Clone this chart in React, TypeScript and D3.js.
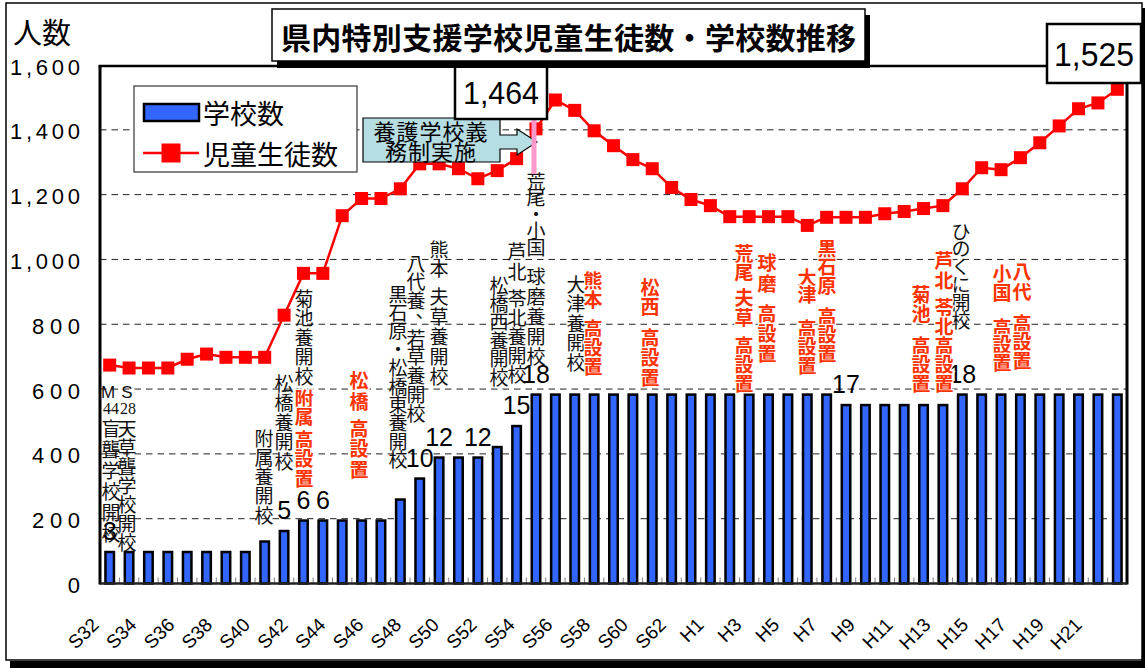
import React from "react";
import * as d3 from "d3";

// ---------- data ----------
const categories = [
  "S32","S33","S34","S35","S36","S37","S38","S39","S40","S41",
  "S42","S43","S44","S45","S46","S47","S48","S49","S50","S51",
  "S52","S53","S54","S55","S56","S57","S58","S59","S60","S61",
  "S62","S63","H1","H2","H3","H4","H5","H6","H7","H8",
  "H9","H10","H11","H12","H13","H14","H15","H16","H17","H18",
  "H19","H20","H21"
];
const schoolCounts = [
  3,3,3,3,3,3,3,3,4,5,
  6,6,6,6,6,8,10,12,12,12,
  13,15,18,18,18,18,18,18,18,18,
  18,18,18,18,18,18,18,18,17,17,
  17,17,17,17,18,18,18,18,18,18,
  18,18,18
];
const studentCounts = [
  674,665,665,665,692,708,698,698,698,828,
  957,957,1135,1188,1188,1218,1295,1295,1280,1249,
  1274,1311,1403,1492,1460,1397,1351,1308,1280,1222,
  1185,1166,1132,1132,1132,1132,1105,1130,1130,1130,
  1141,1148,1157,1166,1218,1283,1277,1314,1360,1412,
  1465,1483,1525
];
const yTickValues = [0,200,400,600,800,1000,1200,1400,1600];
const xTickLabels = [
  "S32","S34","S36","S38","S40","S42","S44","S46","S48","S50","S52","S54","S56","S58",
  "S60","S62","H1","H3","H5","H7","H9","H11","H13","H15","H17","H19","H21"
];
const labeledBars = ["S32","S41","S42","S43","S48","S49","S51","S53","S54","H7","H13"];
const peakLabel = "1,464";
const seriesNames = ["学校数","児童生徒数"];
const titleText = "県内特別支援学校児童生徒数・学校数推移";
const calloutLines = ["養護学校義","務制実施"];

// annotation texts (vertical) with layout
const blackColumns = [
  { text: "盲聾学校開校", x: 111, y: 427, cell: 21 },
  { text: "天草聾学校開校", x: 127, y: 427, cell: 19 },
  { text: "附属養開校", x: 264, y: 437, cell: 19.3 },
  { text: "松橋養開校", x: 284, y: 382, cell: 19.5 },
  { text: "菊池養開校", x: 304, y: 297, cell: 19.5 },
  { text: "黒石原・松橋東養開校", x: 398, y: 293, cell: 18.4 },
  { text: "八代養、若草養開校", x: 416, y: 262, cell: 18.75 },
  { text: "熊本", x: 439, y: 248, cell: 19 },
  { text: "夫草養開校", x: 439, y: 295, cell: 20 },
  { text: "松橋西養開校", x: 499, y: 284, cell: 18.4 },
  { text: "芦北", x: 517, y: 250, cell: 20.5 },
  { text: "苓北養開校", x: 517, y: 297, cell: 19 },
  { text: "荒尾・小国", x: 536, y: 180, cell: 16.5 },
  { text: "球磨養開校", x: 536, y: 275, cell: 20 },
  { text: "大津養開校", x: 576, y: 283, cell: 19.5 },
  { text: "ひのくに開校", x: 961, y: 230, cell: 17.8 },
];
const redColumns = [
  { text: "附属", x: 304, y: 397, cell: 18 },
  { text: "高設置", x: 304, y: 438, cell: 19.5 },
  { text: "松橋", x: 359, y: 379, cell: 21 },
  { text: "高設置", x: 359, y: 427, cell: 20.5 },
  { text: "熊本", x: 593, y: 279, cell: 19 },
  { text: "高設置", x: 593, y: 327, cell: 19 },
  { text: "松西", x: 650, y: 286, cell: 19 },
  { text: "高設置", x: 650, y: 336, cell: 20 },
  { text: "荒尾", x: 744, y: 252, cell: 19 },
  { text: "夫草", x: 744, y: 296, cell: 20 },
  { text: "高設置", x: 744, y: 344, cell: 19 },
  { text: "球磨", x: 767, y: 261, cell: 21 },
  { text: "高設置", x: 767, y: 312, cell: 20 },
  { text: "大津", x: 807, y: 276, cell: 17 },
  { text: "高設置", x: 807, y: 327, cell: 18.5 },
  { text: "黒石原", x: 827, y: 247, cell: 18.5 },
  { text: "高設置", x: 827, y: 315, cell: 18.5 },
  { text: "菊池", x: 921, y: 293, cell: 19 },
  { text: "高設置", x: 921, y: 344, cell: 19 },
  { text: "芦北", x: 944, y: 259, cell: 20 },
  { text: "苓北高設置", x: 944, y: 306, cell: 19 },
  { text: "小国", x: 1002, y: 272, cell: 19 },
  { text: "高設置", x: 1002, y: 326, cell: 17.5 },
  { text: "八代", x: 1022, y: 270, cell: 20 },
  { text: "高設置", x: 1022, y: 322, cell: 18.5 },
];

const CJK = "'Noto Sans CJK JP', 'Noto Sans', sans-serif";
const LAT = "'Liberation Sans', Arial, sans-serif";

function VColumn({ col, color, bold }: any) {
  const chars = Array.from(col.text as string);
  return (
    <g>
      {chars.map((ch, j) => {
        let dx = 0, dy = 0;
        if (ch === "、") { dx = 9; dy = -9; }
        return (
          <text
            key={j}
            x={col.x + dx}
            y={col.y + j * col.cell + dy}
            textAnchor="middle"
            dominantBaseline="central"
            fontSize={19}
            fontFamily={CJK}
            fontWeight={bold ? 700 : 400}
            fill={color}
            stroke={bold ? "#ffffff" : "none"}
            strokeWidth={bold ? 2.5 : 0}
            style={{ paintOrder: "stroke" } as any}
          >
            {ch}
          </text>
        );
      })}
    </g>
  );
}

export default function App() {
  const W = 1145, H = 668;
  const L = 100, R = 1127, T = 65, B = 583.5;

  const x = d3.scaleBand<string>().domain(categories).range([L, R]).paddingInner(0).paddingOuter(0);
  const xc = (c: string) => (x(c) as number) + x.bandwidth() / 2;
  const yL = d3.scaleLinear().domain([0, 1600]).range([B, T]);
  const yR = d3.scaleLinear().domain([0, 49.4]).range([B, T]);
  const xLab = d3.scalePoint<string>().domain(xTickLabels).range([100, 1083]);

  const line = d3.line<number>()
    .x((_, i) => xc(categories[i]))
    .y((d) => yL(d));

  const fmt = d3.format(",");
  const barW = 8.5;
  const mk = 13;
  const labY = 626;

  return (
    <svg width={W} height={H} style={{ position: "absolute", left: 0, top: 0, background: "#fff" }}
      fontFamily={LAT}>
      {/* outer frame */}
      <rect x={10} y={661} width={1135} height={7} fill="#000" />
      <rect x={1141} y={8} width={4} height={660} fill="#000" />
      <rect x={6} y={3} width={1136} height={657} fill="#fff" stroke="#000" strokeWidth={1.5} />

      {/* gridlines */}
      {yTickValues.filter((v) => v > 0 && v < 1600).map((v) => (
        <line key={v} x1={L} x2={R} y1={yL(v)} y2={yL(v)} stroke="#222" strokeWidth={1} strokeDasharray="6.5 5" />
      ))}

      {/* bars */}
      {categories.map((c, i) => (
        <rect key={c} x={xc(c) - barW / 2} y={yR(schoolCounts[i])} width={barW}
          height={yR(0) - yR(schoolCounts[i])} fill="#3366FF" stroke="#000" strokeWidth={2.5} />
      ))}

      {/* minor ticks */}
      {categories.map((c) => (
        <line key={"t" + c} x1={x(c) as number} x2={x(c) as number} y1={B} y2={B - 6} stroke="#808080" strokeWidth={1} />
      ))}

      {/* student line */}
      <path d={line(studentCounts) || ""} fill="none" stroke="#ff0000" strokeWidth={2.5} />
      {studentCounts.map((v, i) => (
        <rect key={"m" + i} x={xc(categories[i]) - mk / 2} y={yL(v) - mk / 2} width={mk} height={mk} fill="#ff0000" />
      ))}

      {/* black annotations */}
      {blackColumns.map((col, i) => <VColumn key={"b" + i} col={col} color="#111" bold={false} />)}
      <text x={108} y={392} textAnchor="middle" dominantBaseline="central" fontSize={17} fill="#111">M</text>
      <text x={127} y={392} textAnchor="middle" dominantBaseline="central" fontSize={17} fill="#111">S</text>
      <text x={111} y={408} textAnchor="middle" dominantBaseline="central" fontSize={17} fontFamily="'Liberation Serif', serif" fill="#111" textLength={16} lengthAdjust="spacingAndGlyphs">44</text>
      <text x={128} y={408} textAnchor="middle" dominantBaseline="central" fontSize={17} fontFamily="'Liberation Serif', serif" fill="#111" textLength={16} lengthAdjust="spacingAndGlyphs">28</text>

      {/* bar value labels */}
      {labeledBars.map((c) => {
        const i = categories.indexOf(c);
        return (
          <text key={"l" + c} x={xc(c)} y={yR(schoolCounts[i]) - 21} textAnchor="middle" dominantBaseline="central"
            fontSize={25} fill="#000">{String(schoolCounts[i])}</text>
        );
      })}

      {/* red annotations */}
      {redColumns.map((col, i) => <VColumn key={"r" + i} col={col} color="#ff3300" bold={true} />)}

      {/* plot border */}
      <line x1={L} x2={L} y1={66} y2={B + 1} stroke="#000" strokeWidth={3} />
      <line x1={R} x2={R} y1={66} y2={B + 1} stroke="#000" strokeWidth={3} />
      <line x1={L - 1.5} x2={R + 1.5} y1={66} y2={66} stroke="#000" strokeWidth={2.5} />
      <line x1={L} x2={R} y1={B} y2={B} stroke="#222" strokeWidth={2.5} />

      {/* y axis labels */}
      {yTickValues.map((v) => {
        const s = fmt(v);
        const tl = s.length >= 5 ? 70 : s.length === 3 ? 48 : undefined;
        return (
          <text key={"y" + v} x={80} y={yL(v) + 2} textAnchor="end" dominantBaseline="central" fontSize={22}
            fill="#000" textLength={tl} lengthAdjust={tl ? "spacing" : undefined}>{s}</text>
        );
      })}
      <text x={42} y={31} textAnchor="middle" dominantBaseline="central" fontSize={29} fontFamily={CJK} fill="#000">人数</text>

      {/* x axis labels (rotated -45deg) */}
      {xTickLabels.map((s) => {
        const px = xLab(s) as number;
        return (
          <g key={"x" + s} transform={`translate(${px.toFixed(2)} ${labY}) rotate(-45)`}>
            <text x={0} y={0} textAnchor="end" fontSize={19} fill="#000">{s}</text>
          </g>
        );
      })}

      {/* legend */}
      <rect x={134} y={86} width={223} height={86} fill="#fff" stroke="#333" strokeWidth={1.2} />
      <rect x={144} y={104} width={55} height={17} fill="#3366FF" stroke="#000" strokeWidth={2.5} />
      <text x={203} y={112} dominantBaseline="central" fontSize={27} fontFamily={CJK} fill="#000">{seriesNames[0]}</text>
      <line x1={143} x2={199} y1={153} y2={153} stroke="#ff0000" strokeWidth={2.5} />
      <rect x={171 - 9.5} y={153 - 9.5} width={19} height={19} fill="#ff0000" />
      <text x={203} y={153} dominantBaseline="central" fontSize={27} fontFamily={CJK} fill="#000">{seriesNames[1]}</text>

      {/* callout */}
      <path d="M363,118 H500 V135 H517 V129 L537,142 L517,155 V149 H500 V162 H363 Z" fill="#b6dde2" stroke="#000" strokeWidth={1.2} />
      <text x={431} y={130} textAnchor="middle" dominantBaseline="central" fontSize={22} fontFamily={CJK} fill="#000" letterSpacing={1}>{calloutLines[0]}</text>
      <text x={431} y={150} textAnchor="middle" dominantBaseline="central" fontSize={22} fontFamily={CJK} fill="#000" letterSpacing={1}>{calloutLines[1]}</text>
      <line x1={534} x2={534} y1={117} y2={174} stroke="#ff99cc" strokeWidth={5} />

      {/* value boxes */}
      <rect x={455} y={65} width={92} height={54} fill="#fff" stroke="#000" strokeWidth={2.5} />
      <text x={501} y={93} textAnchor="middle" dominantBaseline="central" fontSize={32} fill="#000" textLength={76} lengthAdjust="spacingAndGlyphs">{peakLabel}</text>
      <rect x={1047} y={24} width={94} height={59} fill="#fff" stroke="#000" strokeWidth={2.5} />
      <text x={1094} y={54} textAnchor="middle" dominantBaseline="central" fontSize={33} fill="#000" textLength={80} lengthAdjust="spacingAndGlyphs">{fmt(studentCounts[studentCounts.length - 1])}</text>

      {/* title */}
      <rect x={277} y={15} width={593} height={53} fill="#000" />
      <rect x={272} y={9} width={593} height={52} fill="#fff" stroke="#000" strokeWidth={1.5} />
      <text x={568.5} y={36} textAnchor="middle" dominantBaseline="central" fontSize={30} fontWeight={700} fontFamily={CJK} fill="#000" textLength={575} lengthAdjust="spacing">{titleText}</text>
    </svg>
  );
}
